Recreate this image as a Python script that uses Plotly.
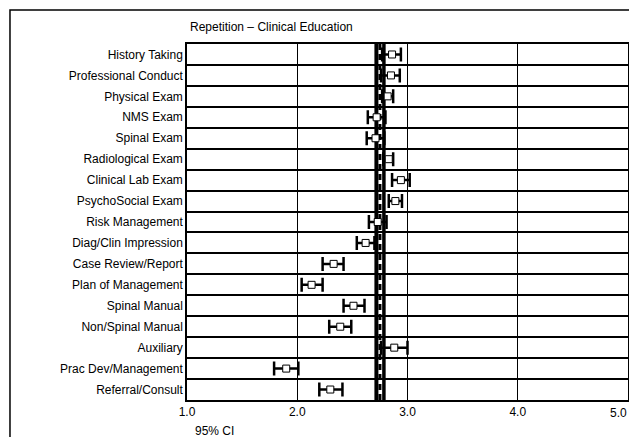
import plotly.graph_objects as go

categories = ["History Taking", "Professional Conduct", "Physical Exam", "NMS Exam",
              "Spinal Exam", "Radiological Exam", "Clinical Lab Exam", "PsychoSocial Exam",
              "Risk Management", "Diag/Clin Impression", "Case Review/Report",
              "Plan of Management", "Spinal Manual", "Non/Spinal Manual", "Auxiliary",
              "Prac Dev/Management", "Referral/Consult"]
means = [2.86, 2.85, 2.82, 2.72, 2.71, 2.83, 2.94, 2.89, 2.73, 2.62, 2.33, 2.13, 2.51, 2.39, 2.88, 1.90, 2.30]
ci_low = [2.77, 2.76, 2.77, 2.64, 2.63, 2.78, 2.86, 2.83, 2.65, 2.54, 2.23, 2.04, 2.42, 2.29, 2.76, 1.79, 2.20]
ci_high = [2.94, 2.93, 2.87, 2.80, 2.79, 2.87, 3.02, 2.95, 2.81, 2.70, 2.42, 2.23, 2.61, 2.49, 3.00, 2.01, 2.41]
overall_mean = 2.75
x_ticks = [1.0, 2.0, 3.0, 4.0, 5.0]
x_tick_labels = ["1.0", "2.0", "3.0", "4.0", "5.0"]
title_text = "Repetition \u2013 Clinical Education"
x_label = "95% CI"

err_plus = [h - m for h, m in zip(ci_high, means)]
err_minus = [m - l for m, l in zip(means, ci_low)]

font = dict(family="Liberation Sans, Arial, sans-serif", size=12, color="black")

fig = go.Figure()
fig.add_trace(go.Scatter(
    x=means, y=categories, mode="markers",
    marker=dict(symbol="square", size=7, color="white", line=dict(color="black", width=1)),
    error_x=dict(type="data", symmetric=False, array=err_plus, arrayminus=err_minus,
                 color="black", thickness=2.5, width=7),
    showlegend=False, cliponaxis=False,
))

shapes = [
    dict(type="line", xref="x", yref="paper", x0=overall_mean - 0.032, x1=overall_mean - 0.032,
         y0=0, y1=1, line=dict(color="black", width=4), layer="below"),
    dict(type="line", xref="x", yref="paper", x0=overall_mean, x1=overall_mean,
         y0=0, y1=1, line=dict(color="black", width=3, dash="6px,4px"), layer="below"),
    dict(type="line", xref="x", yref="paper", x0=overall_mean + 0.036, x1=overall_mean + 0.036,
         y0=0, y1=1, line=dict(color="black", width=3.5), layer="below"),
    dict(type="rect", xref="paper", yref="paper", x0=-0.4014, x1=3, y0=-2, y1=1.0955,
         line=dict(color="black", width=1.5), fillcolor="rgba(0,0,0,0)", layer="below"),
]

# last tick label is placed as an annotation so that it stays inside the page
tick_text_axis = x_tick_labels[:-1] + [""]
annotations = [
    dict(text=x_label, xref="paper", yref="paper", x=0, y=0,
         xanchor="left", yanchor="top", xshift=6, yshift=-22,
         showarrow=False, font=dict(size=12)),
    dict(text=x_tick_labels[-1], xref="x", yref="paper", x=x_ticks[-1], y=0,
         xanchor="right", yanchor="top", xshift=1, yshift=-4,
         showarrow=False, font=dict(size=12)),
]

fig.update_layout(
    width=621, height=429,
    margin=dict(l=179, r=1, t=36, b=37, autoexpand=False),
    paper_bgcolor="white", plot_bgcolor="white",
    font=font,
    title=dict(text=title_text, x=0.2931, xanchor="left", xref="container",
               y=0.9557, yanchor="middle", font=dict(size=12)),
    shapes=shapes,
    annotations=annotations,
)
fig.update_xaxes(range=[1, 5], tickvals=x_ticks, ticktext=tick_text_axis, ticks="",
                 automargin=False,
                 showgrid=True, gridcolor="black", gridwidth=1,
                 showline=True, linecolor="black", linewidth=1.5, mirror=True,
                 zeroline=False, fixedrange=True)
fig.update_yaxes(type="category", categoryorder="array", categoryarray=categories,
                 range=[len(categories) - 0.5, -0.5], tickson="boundaries", ticks="",
                 automargin=False,
                 showgrid=True, gridcolor="black", gridwidth=1.5,
                 showline=True, linecolor="black", linewidth=1.5, mirror=True,
                 fixedrange=True)

fig.write_html("out.html")
